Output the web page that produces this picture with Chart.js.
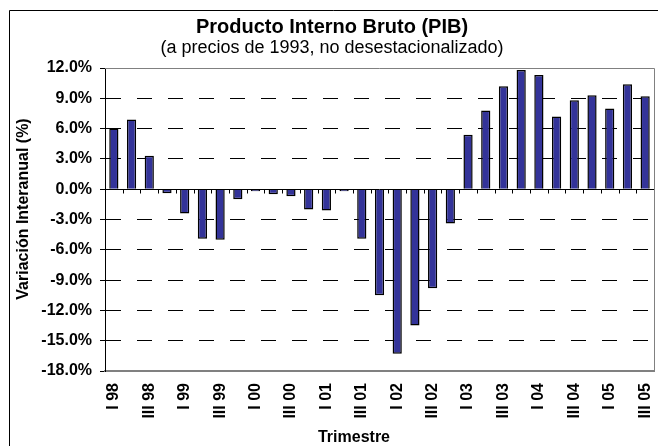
<!DOCTYPE html>
<html>
<head>
<meta charset="utf-8">
<script src="https://cdn.jsdelivr.net/npm/chart.js@4"></script>
<style>
  html, body { margin: 0; padding: 0; background: #fff; }
  #wrap { width: 658px; height: 446px; position: relative; }
</style>
</head>
<body>
<div id="wrap"><canvas id="chart"></canvas></div>
<script>
const quarters = [
  "I 98", "II 98", "III 98", "IV 98",
  "I 99", "II 99", "III 99", "IV 99",
  "I 00", "II 00", "III 00", "IV 00",
  "I 01", "II 01", "III 01", "IV 01",
  "I 02", "II 02", "III 02", "IV 02",
  "I 03", "II 03", "III 03", "IV 03",
  "I 04", "II 04", "III 04", "IV 04",
  "I 05", "II 05", "III 05"
];
const pibChange = [
  6.0, 6.9, 3.3, -0.4,
  -2.4, -4.9, -5.0, -1.0,
  -0.2, -0.5, -0.7, -2.0,
  -2.1, -0.2, -4.9, -10.5,
  -16.3, -13.5, -9.8, -3.4,
  5.4, 7.8, 10.2, 11.8,
  11.3, 7.2, 8.8, 9.3,
  8.0, 10.4, 9.2
];
const yTicks = [12, 9, 6, 3, 0, -3, -6, -9, -12, -15, -18];

const FONT = "Arial, 'Liberation Sans', sans-serif";

// frame, zero line with its ticks, axis titles
const decor = {
  id: "decor",
  beforeDraw(chart) {
    const ctx = chart.ctx;
    ctx.save();
    ctx.fillStyle = "#fff";
    ctx.fillRect(0, 0, chart.width, chart.height);
    ctx.restore();
  },
  afterDatasetsDraw(chart) {
    const { ctx, chartArea: a, scales: { x, y } } = chart;
    const y0 = Math.round(y.getPixelForValue(0)) + 0.5;
    const step = x.getPixelForValue(1) - x.getPixelForValue(0);
    ctx.save();
    ctx.strokeStyle = "#000";
    ctx.lineWidth = 1;
    ctx.beginPath();
    ctx.moveTo(a.left, y0);
    ctx.lineTo(a.right, y0);
    for (let i = 1; i < quarters.length; i++) {
      const px = Math.round(x.getPixelForValue(i) - step / 2) + 0.5;
      ctx.moveTo(px, y0);
      ctx.lineTo(px, y0 + 4);
    }
    ctx.stroke();

    ctx.strokeStyle = "#808080";
    ctx.beginPath();
    ctx.moveTo(a.left, Math.round(a.top) + 0.5);
    ctx.lineTo(Math.round(a.right) + 0.5, Math.round(a.top) + 0.5);
    ctx.lineTo(Math.round(a.right) + 0.5, a.bottom);
    ctx.stroke();
    ctx.restore();
  },
  afterDraw(chart) {
    const ctx = chart.ctx;
    ctx.save();
    ctx.strokeStyle = "#000";
    ctx.lineWidth = 1;
    ctx.beginPath();
    ctx.moveTo(9.5, chart.height);
    ctx.lineTo(9.5, 10.5);
    ctx.lineTo(chart.width, 10.5);
    ctx.stroke();

    ctx.fillStyle = "#000";
    ctx.font = "bold 16px " + FONT;
    ctx.textAlign = "center";
    ctx.textBaseline = "middle";
    ctx.fillText("Trimestre", 354, 438);
    ctx.translate(24, 209);
    ctx.rotate(-Math.PI / 2);
    ctx.fillText("Variación Interanual (%)", 0, 0);
    ctx.restore();
  }
};

function mainEvent() {
  const ctx = document.getElementById("chart");
  new Chart(ctx, {
    type: "bar",
    data: {
      labels: quarters,
      datasets: [
        {
          data: pibChange,
          backgroundColor: "#333399",
          borderColor: "#000",
          borderWidth: 1.5,
          barPercentage: 0.52,
          categoryPercentage: 1.0,
        },
      ],
    },
    options: {
      responsive: true,
      maintainAspectRatio: false,
      animation: false,
      devicePixelRatio: 1,
      layout: { padding: { left: 10, right: 4, top: 8, bottom: 0 } },
      plugins: {
        legend: { display: false },
        tooltip: { enabled: false },
        title: {
          display: true,
          text: "Producto Interno Bruto (PIB)",
          color: "#000",
          font: { family: FONT, size: 20, weight: "bold", lineHeight: 1 },
          padding: { top: 9, bottom: 0 },
        },
        subtitle: {
          display: true,
          text: "(a precios de 1993, no desestacionalizado)",
          color: "#000",
          font: { family: FONT, size: 18, weight: "normal", lineHeight: 1 },
          padding: { top: 2, bottom: 11 },
        },
      },
      scales: {
        x: {
          grid: { display: false, drawTicks: false },
          border: { display: true, color: "#808080", width: 2 },
          ticks: {
            color: "#000",
            font: { family: FONT, size: 16, weight: "bold" },
            minRotation: 90,
            maxRotation: 90,
            autoSkip: false,
            padding: 12,
            callback: (v, i) => (i % 2 === 0 ? quarters[i] : ""),
          },
          afterFit: (s) => {
            s.height = 75;
            s.paddingLeft = 0;
            s.paddingRight = 0;
          },
        },
        y: {
          min: -18,
          max: 12,
          afterBuildTicks: (s) => { s.ticks = yTicks.map((v) => ({ value: v })); },
          grid: {
            color: (c) => (c.tick && [0, 12, -18].includes(c.tick.value) ? "rgba(0,0,0,0)" : "#000"),
            tickColor: "#000",
            tickLength: 5,
            lineWidth: 1,
          },
          border: { display: true, color: "#000", width: 1, dash: [15, 16] },
          ticks: {
            color: "#000",
            font: { family: FONT, size: 16, weight: "bold" },
            padding: 8,
            callback: (v) => v.toFixed(1) + "%",
          },
          afterFit: (s) => { s.width = 95; },
        },
      },
    },
    plugins: [decor],
  });
}
document.addEventListener("DOMContentLoaded", mainEvent);
</script>
</body>
</html>
